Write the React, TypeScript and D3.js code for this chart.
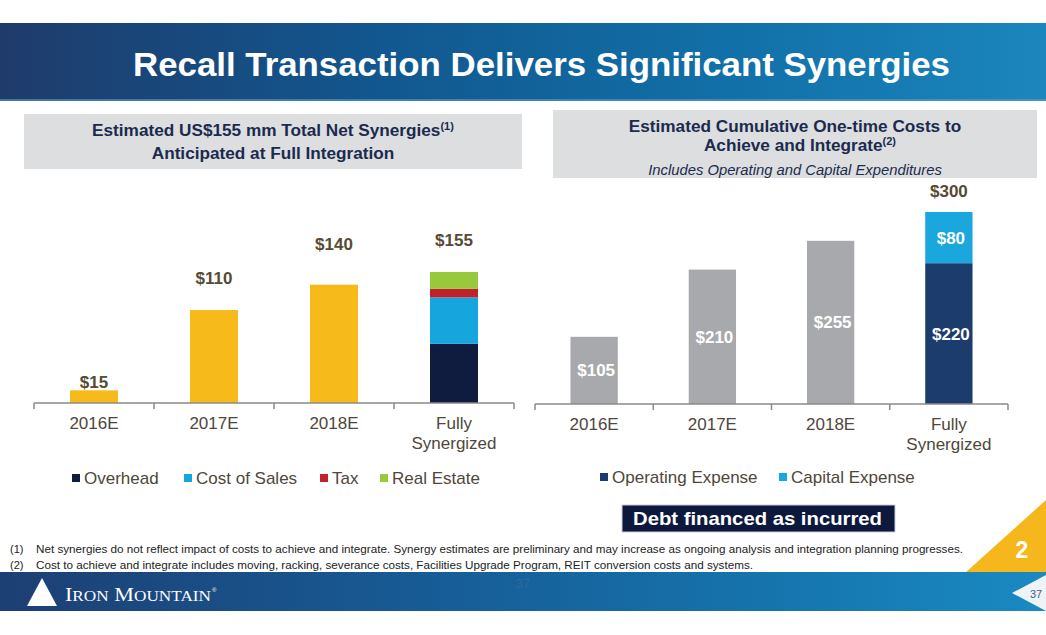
import React from "react";
import * as d3 from "d3";

// ---------- data ----------
const categories = ["2016E", "2017E", "2018E", "Fully Synergized"];

// left chart: estimated net synergies (US$ mm)
const synergyKeys = ["Annual", "Overhead", "Cost of Sales", "Tax", "Real Estate"];
const annualSynergy = [15, 110, 140, 0];
const overhead = [0, 0, 0, 70];
const costOfSales = [0, 0, 0, 55];
const tax = [0, 0, 0, 10];
const realEstate = [0, 0, 0, 20];
const synergyTotals = [15, 110, 140, 155];

// right chart: cumulative one-time costs (US$ mm)
const costKeys = ["Cumulative", "Operating Expense", "Capital Expense"];
const cumulativeCost = [105, 210, 255, 0];
const operatingExpense = [0, 0, 0, 220];
const capitalExpense = [0, 0, 0, 80];
const costTotal = 300;

const leftLegend = ["Overhead", "Cost of Sales", "Tax", "Real Estate"];
const rightLegend = ["Operating Expense", "Capital Expense"];

const footnotes = [
  ["(1)", "Net synergies do not reflect impact of costs to achieve and integrate. Synergy estimates are preliminary and may increase as ongoing analysis and integration planning progresses."],
  ["(2)", "Cost to achieve and integrate includes moving, racking, severance costs, Facilities Upgrade Program, REIT conversion costs and systems."],
];

// ---------- styles ----------
const FONT = "'Liberation Sans', Arial, Helvetica, sans-serif";
const NARROW = "'Liberation Sans Narrow', 'Liberation Sans', Arial, sans-serif";
const synergyColors: Record<string, string> = {
  Annual: "#f6bb1a",
  Overhead: "#0f1c3f",
  "Cost of Sales": "#16a5dd",
  Tax: "#c2212b",
  "Real Estate": "#98c93c",
};
const costColors: Record<string, string> = {
  Cumulative: "#a7a9ac",
  "Operating Expense": "#1b3c6c",
  "Capital Expense": "#19a7de",
};
const labelLift = [2, 26, 35, 26];
const NAVY_TEXT = "#1b2a4e";
const VAL_TEXT = "#574a33";
const AXIS_TEXT = "#4e473a";

function rows(keys: string[], arrays: number[][]) {
  return categories.map((c, i) => {
    const r: any = { cat: c };
    keys.forEach((k, j) => (r[k] = arrays[j][i]));
    return r;
  });
}

function CategoryAxis({ x, y0 }: { x: d3.ScaleBand<string>; y0: number }) {
  const step = x.step();
  const inner = x.paddingInner() * step;
  const bounds = categories.map((c) => (x(c) as number) - inner / 2);
  bounds.push((x(categories[categories.length - 1]) as number) + x.bandwidth() + inner / 2);
  const [r0, r1] = x.range();
  return (
    <g>
      <line x1={r0} x2={r1} y1={y0} y2={y0} stroke="#8a8a8a" strokeWidth={1.5} />
      {bounds.map((b, i) => (
        <line key={i} x1={b} x2={b} y1={y0} y2={y0 + 6} stroke="#8a8a8a" strokeWidth={1.5} />
      ))}
      {categories.map((c) => {
        const cx = (x(c) as number) + x.bandwidth() / 2;
        const parts = c === "Fully Synergized" ? ["Fully", "Synergized"] : [c];
        return (
          <text key={c} x={cx} y={y0 + 26} textAnchor="middle" fontFamily={FONT} fontSize={17} fill={AXIS_TEXT}>
            {parts.map((p, i) => (
              <tspan key={i} x={cx} dy={i === 0 ? 0 : 20}>{p}</tspan>
            ))}
          </text>
        );
      })}
    </g>
  );
}

function Legend({ items, colors, x0, y }: { items: string[]; colors: Record<string, string>; x0: number[]; y: number }) {
  return (
    <g>
      {items.map((it, i) => (
        <g key={it}>
          <rect x={x0[i]} y={y - 10} width={8} height={8} fill={colors[it]} />
          <text x={x0[i] + 12} y={y} fontFamily={FONT} fontSize={17} fill={AXIS_TEXT}>{it}</text>
        </g>
      ))}
    </g>
  );
}

export default function App() {
  // left chart scales
  const xL = d3.scaleBand<string>().domain(categories).range([34, 514]).paddingInner(0.6).paddingOuter(0.3);
  const yL = d3.scaleLinear().domain([0, 155]).range([403, 272]);
  const stackL = d3.stack<any>().keys(synergyKeys)(rows(synergyKeys, [annualSynergy, overhead, costOfSales, tax, realEstate]));

  // right chart scales
  const xR = d3.scaleBand<string>().domain(categories).range([535, 1008]).paddingInner(0.6).paddingOuter(0.3);
  const yR = d3.scaleLinear().domain([0, 300]).range([404, 212]);
  const stackR = d3.stack<any>().keys(costKeys)(rows(costKeys, [cumulativeCost, operatingExpense, capitalExpense]));

  return (
    <svg width={1046} height={635} style={{ position: "absolute", left: 0, top: 0, background: "#fff" }}>
      <defs>
        <linearGradient id="bannerTop" x1="0" x2="1" y1="0" y2="0">
          <stop offset="0" stopColor="#1f3b6b" />
          <stop offset="0.35" stopColor="#12568e" />
          <stop offset="0.7" stopColor="#1270a8" />
          <stop offset="1" stopColor="#1b86bd" />
        </linearGradient>
        <linearGradient id="bannerBot" x1="0" x2="1" y1="0" y2="0">
          <stop offset="0" stopColor="#1d3f73" />
          <stop offset="0.4" stopColor="#175b95" />
          <stop offset="0.75" stopColor="#1675ae" />
          <stop offset="1" stopColor="#1a8ac2" />
        </linearGradient>
      </defs>

      {/* top banner */}
      <rect x={0} y={23} width={1046} height={78} fill="url(#bannerTop)" />
      <rect x={0} y={99} width={1046} height={2} fill="#5d9cc8" opacity={0.6} />
      <text x={133} y={76} fontFamily={NARROW} fontWeight="bold" fontSize={33} fill="#fff" textLength={817} lengthAdjust="spacingAndGlyphs">
        Recall Transaction Delivers Significant Synergies
      </text>

      {/* left header */}
      <rect x={24} y={114} width={498} height={55} fill="#dddee0" />
      <text x={273} y={136} textAnchor="middle" fontFamily={FONT} fontWeight="bold" fontSize={17.2} fill={NAVY_TEXT}>
        Estimated US$155 mm Total Net Synergies
        <tspan fontSize={11} dy={-6}>(1)</tspan>
      </text>
      <text x={273} y={159} textAnchor="middle" fontFamily={FONT} fontWeight="bold" fontSize={17.2} fill={NAVY_TEXT}>
        Anticipated at Full Integration
      </text>

      {/* right header */}
      <rect x={553} y={110} width={484} height={68} fill="#dddee0" />
      <text x={795} y={132} textAnchor="middle" fontFamily={FONT} fontWeight="bold" fontSize={17.2} fill={NAVY_TEXT}>
        Estimated Cumulative One-time Costs to
      </text>
      <text x={800} y={151} textAnchor="middle" fontFamily={FONT} fontWeight="bold" fontSize={17.2} fill={NAVY_TEXT}>
        Achieve and Integrate
        <tspan fontSize={11} dy={-6}>(2)</tspan>
      </text>
      <text x={795} y={175} textAnchor="middle" fontFamily={FONT} fontStyle="italic" fontSize={14.8} fill={NAVY_TEXT}>
        Includes Operating and Capital Expenditures
      </text>

      {/* left chart bars */}
      {stackL.map((s) => (
        <g key={s.key} fill={synergyColors[s.key]}>
          {s.map((d, i) =>
            d[1] - d[0] > 0 ? (
              <rect key={i} x={xL(categories[i])} width={xL.bandwidth()} y={yL(d[1])} height={yL(d[0]) - yL(d[1])} />
            ) : null
          )}
        </g>
      ))}
      {synergyTotals.map((v, i) => (
        <text key={i} x={(xL(categories[i]) as number) + xL.bandwidth() / 2} y={yL(v) - labelLift[i]} textAnchor="middle"
          fontFamily={FONT} fontWeight="bold" fontSize={17} fill={VAL_TEXT}>
          ${v}
        </text>
      ))}
      <CategoryAxis x={xL} y0={403} />

      {/* right chart bars */}
      {stackR.map((s) => (
        <g key={s.key}>
          {s.map((d, i) =>
            d[1] - d[0] > 0 ? (
              <g key={i}>
                <rect x={xR(categories[i])} width={xR.bandwidth()} y={yR(d[1])} height={yR(d[0]) - yR(d[1])} fill={costColors[s.key]} />
                <text x={(xR(categories[i]) as number) + xR.bandwidth() / 2 + 2} y={(yR(d[0]) + yR(d[1])) / 2 + 6}
                  textAnchor="middle" fontFamily={FONT} fontWeight="bold" fontSize={17} fill="#fff">
                  ${d[1] - d[0]}
                </text>
              </g>
            ) : null
          )}
        </g>
      ))}
      <text x={(xR(categories[3]) as number) + xR.bandwidth() / 2} y={yR(costTotal) - 15} textAnchor="middle"
        fontFamily={FONT} fontWeight="bold" fontSize={17} fill={VAL_TEXT}>
        ${costTotal}
      </text>
      <CategoryAxis x={xR} y0={404} />

      {/* legends */}
      <Legend items={leftLegend} colors={synergyColors} x0={[72, 184, 320, 380]} y={484} />
      <Legend items={rightLegend} colors={costColors} x0={[600, 779]} y={483} />

      {/* debt box */}
      <rect x={622} y={505} width={273} height={27} fill="#0c193d" stroke="#c9cfdb" strokeWidth={1} />
      <text x={633} y={525} fontFamily={FONT} fontWeight="bold" fontSize={18.5} fill="#fff" textLength={249} lengthAdjust="spacingAndGlyphs">
        Debt financed as incurred
      </text>

      {/* footnotes */}
      {footnotes.map((f, i) => (
        <g key={i} fontFamily={FONT} fontSize={11} fill="#222">
          <text x={10} y={553 + i * 16}>{f[0]}</text>
          <text x={36} y={553 + i * 16} textLength={i === 0 ? 927 : 717} lengthAdjust="spacingAndGlyphs">{f[1]}</text>
        </g>
      ))}

      {/* yellow badge */}
      <polygon points="965,573 1046,500 1046,573" fill="#f5b71b" />
      <text x={1022} y={558} textAnchor="middle" fontFamily={FONT} fontWeight="bold" fontSize={23} fill="#fff">2</text>

      {/* bottom banner */}
      <rect x={0} y={572} width={1046} height={39} fill="url(#bannerBot)" />
      <polygon points="1046,575 1012,593 1046,611" fill="#eef3f7" />
      <text x={1036} y={598} textAnchor="middle" fontFamily={FONT} fontSize={11} fill="#3f6185">37</text>
      <text x={523} y={588} textAnchor="middle" fontFamily={FONT} fontSize={13} fill="#3a6a98" opacity={0.8}>37</text>
      <polygon points="27,606 42,578 57,606" fill="#fff" />
      <text x={65} y={601} fontFamily="'Liberation Serif', 'Times New Roman', serif" fontSize={18} fill="#fff" textLength={146} lengthAdjust="spacingAndGlyphs">
        I<tspan fontSize={14}>RON</tspan> M<tspan fontSize={14}>OUNTAIN</tspan>
      </text>
      <text x={212} y={592} fontFamily={FONT} fontSize={6} fill="#fff">®</text>
    </svg>
  );
}
